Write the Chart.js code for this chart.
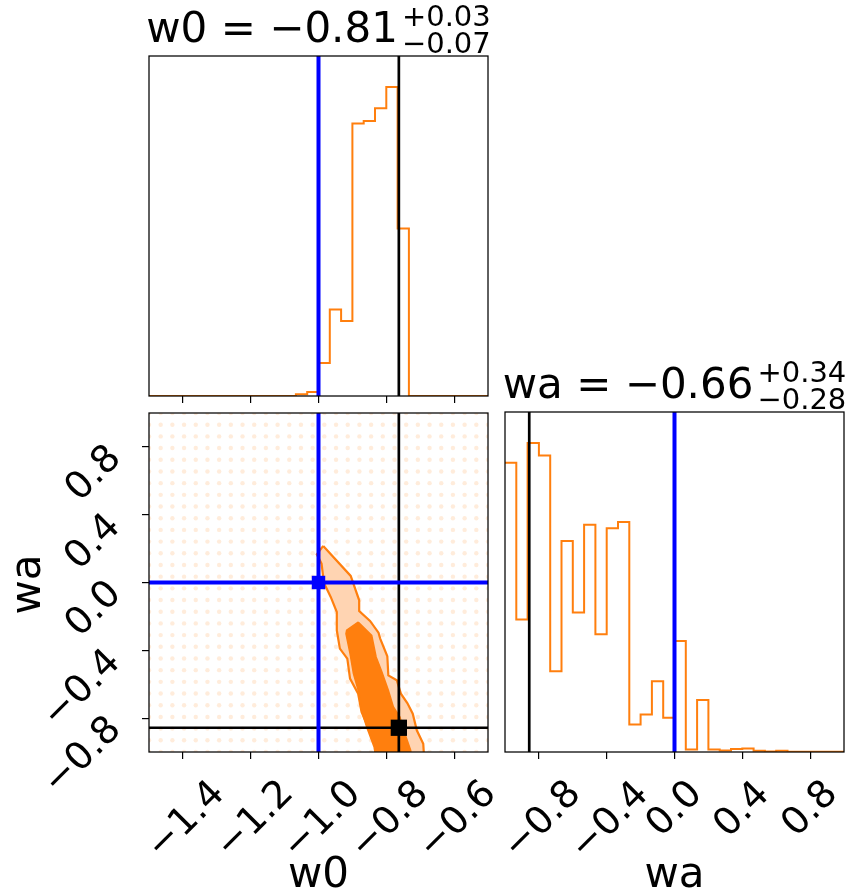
<!DOCTYPE html>
<html>
<head>
<meta charset="utf-8">
<script src="https://cdn.jsdelivr.net/npm/chart.js@4.4.1/dist/chart.umd.min.js"></script>
<style>
    html, body { margin: 0; padding: 0; background: #fff; }
    #wrap { position: relative; width: 850px; height: 892px; }
    #wrap canvas { position: absolute; left: 0; top: 0; }
</style>
</head>
<body>
<div id="wrap">
    <canvas id="c_w0" width="850" height="892"></canvas>
    <canvas id="c_2d" width="850" height="892"></canvas>
    <canvas id="c_wa" width="850" height="892"></canvas>
</div>
<script>
'use strict';

// axis ranges and binning of the marginal histograms
const w0_range = [-1.5, -0.5];
const wa_range = [-1.0, 1.0];

// relative counts per bin (30 bins each)
const w0_hist = [0, 0, 0, 0, 0, 0, 0, 0, 0, 0, 0, 0, 0,
    0.006, 0.013, 0.107, 0.280, 0.243, 0.882, 0.890, 0.931, 1.0, 0.542,
    0, 0, 0, 0, 0, 0, 0];
const wa_hist = [0.936, 0.429, 1.0, 0.959, 0.261, 0.683, 0.451, 0.735, 0.381, 0.724,
    0.744, 0.089, 0.121, 0.229, 0.111, 0.359, 0.008, 0.168, 0.008, 0.005,
    0.010, 0.011, 0.004, 0.002, 0.004, 0.001, 0.001, 0.001, 0.001, 0.001];

const w0_ticks = [-1.4, -1.2, -1.0, -0.8, -0.6];
const wa_ticks = [-0.8, -0.4, 0.0, 0.4, 0.8];

// reference (blue) and best fit (black) values: [w0, wa]
const ref_point = [-1.0, 0.0];
const best_point = [-0.763, -0.857];

// 2d credible contours [w0, wa]
const contour_outer = [[-0.986, 0.216], [-0.905, 0.039], [-0.880, -0.105], [-0.880, -0.168],
    [-0.848, -0.227], [-0.823, -0.296], [-0.818, -0.331], [-0.797, -0.435], [-0.794, -0.548],
    [-0.769, -0.577], [-0.757, -0.656], [-0.738, -0.711], [-0.722, -0.774], [-0.710, -0.872],
    [-0.691, -0.951], [-0.688, -1.05], [-0.830, -1.05], [-0.833, -0.951], [-0.850, -0.872],
    [-0.873, -0.764], [-0.883, -0.656], [-0.907, -0.567], [-0.915, -0.449], [-0.937, -0.390],
    [-0.946, -0.282], [-0.946, -0.174], [-0.964, -0.085], [-0.984, -0.003], [-0.991, 0.111],
    [-1.005, 0.166]];
const contour_inner = [[-0.883, -0.233], [-0.843, -0.312], [-0.830, -0.439], [-0.814, -0.522],
    [-0.794, -0.636], [-0.779, -0.734], [-0.760, -0.793], [-0.745, -0.892], [-0.728, -0.990],
    [-0.726, -1.05], [-0.830, -1.05], [-0.836, -0.970], [-0.858, -0.852], [-0.873, -0.754],
    [-0.880, -0.656], [-0.897, -0.538], [-0.907, -0.420], [-0.919, -0.302], [-0.917, -0.282]];

const w0_title = ['w0 = \u22120.81', '+0.03', '\u22120.07'];
const wa_title = ['wa = \u22120.66', '+0.34', '\u22120.28'];

const ORANGE = '#ff7f0e';
const LIGHT = '#ffd4b2';
const BLUE = '#0000ff';
const FONT = '"DejaVu Sans", sans-serif';
const K = Math.SQRT1_2;

function stepPoints(range, counts) {
    const w = (range[1] - range[0]) / counts.length;
    const pts = counts.map((c, i) => ({x: range[0] + i * w, y: c}));
    pts.push({x: range[1], y: counts[counts.length - 1]});
    return pts;
}

function polyPoints(poly) {
    const pts = poly.map(p => ({x: p[0], y: p[1]}));
    pts.push({x: poly[0][0], y: poly[0][1]});
    return pts;
}

function lineSet(pts, color, width, order) {
    return {data: pts, borderColor: color, borderWidth: width, pointRadius: 0, fill: false, tension: 0, order: order};
}

function xAxis(range, ticks) {
    return {
        type: 'linear', min: range[0], max: range[1],
        ticks: {display: false},
        afterBuildTicks: s => { s.ticks = ticks.map(v => ({value: v})); },
        afterFit: s => { s.height = 7; },
        grid: {drawOnChartArea: false, drawTicks: true, tickLength: 7, color: '#000', lineWidth: 1.2},
        border: {display: false}
    };
}

function yAxis(range, ticks) {
    if (!ticks) {
        return {type: 'linear', min: range[0], max: range[1], display: false};
    }
    return {
        type: 'linear', min: range[0], max: range[1],
        ticks: {display: false},
        afterBuildTicks: s => { s.ticks = ticks.map(v => ({value: v})); },
        afterFit: s => { s.width = 7; },
        grid: {drawOnChartArea: false, drawTicks: true, tickLength: 7, color: '#000', lineWidth: 1.2},
        border: {display: false}
    };
}

// fills a closed polygon dataset under its outline
const polyFill = {
    id: 'polyFill',
    beforeDatasetDraw(chart, args) {
        const ds = chart.data.datasets[args.index];
        if (!ds.polyColor) return;
        const ctx = chart.ctx, a = chart.chartArea;
        ctx.save();
        ctx.beginPath();
        ctx.rect(a.left, a.top, a.right - a.left, a.bottom - a.top);
        ctx.clip();
        ctx.beginPath();
        args.meta.data.forEach((p, i) => i ? ctx.lineTo(p.x, p.y) : ctx.moveTo(p.x, p.y));
        ctx.closePath();
        ctx.fillStyle = ds.polyColor;
        ctx.fill();
        ctx.restore();
    }
};

// faint dot texture behind the 2d panel
const dotGrid = {
    id: 'dotGrid',
    beforeDatasetsDraw(chart) {
        const ctx = chart.ctx, a = chart.chartArea;
        const xs = chart.scales.x, ys = chart.scales.y;
        ctx.save();
        ctx.beginPath();
        ctx.rect(a.left, a.top, a.right - a.left, a.bottom - a.top);
        ctx.clip();
        ctx.fillStyle = 'rgba(255,127,14,0.15)';
        for (let i = 0; i < 30; i++) {
            for (let j = 0; j < 30; j++) {
                const px = xs.getPixelForValue(xs.min + i * (xs.max - xs.min) / 29);
                const py = ys.getPixelForValue(ys.min + j * (ys.max - ys.min) / 29);
                ctx.beginPath();
                ctx.arc(px, py, 2.2, 0, Math.PI * 2);
                ctx.fill();
            }
        }
        ctx.restore();
    }
};

function fmt(v) {
    return (v < 0 ? '\u2212' : '') + Math.abs(v).toFixed(1);
}

// rotated (45 deg) tick label, placed by its ink box
function rotLabel(ctx, text, place) {
    ctx.font = '38px ' + FONT;
    ctx.textAlign = 'left';
    ctx.textBaseline = 'alphabetic';
    const m = ctx.measureText(text);
    const L = m.actualBoundingBoxLeft, R = m.actualBoundingBoxRight;
    const A = m.actualBoundingBoxAscent, D = m.actualBoundingBoxDescent;
    const minX = K * (-L - A), maxX = K * (R + D), minY = K * (-R - A);
    let ax, ay;
    if (place.cx !== undefined) {
        ax = place.cx - (minX + maxX) / 2;
    } else {
        ax = place.right - maxX;
    }
    ay = place.top - minY;
    ctx.save();
    ctx.translate(ax, ay);
    ctx.rotate(-Math.PI / 4);
    ctx.fillText(text, 0, 0);
    ctx.restore();
}

function textPlugin(cfg) {
    return {
        id: 'panelText',
        afterDraw(chart) {
            const ctx = chart.ctx, a = chart.chartArea;
            ctx.save();
            ctx.fillStyle = '#000';
            // frame
            ctx.strokeStyle = '#000';
            ctx.lineWidth = 1.25;
            ctx.strokeRect(a.left, a.top, a.right - a.left, a.bottom - a.top);

            if (cfg.title) {
                const [main, sup, sub] = cfg.title;
                ctx.textAlign = 'left';
                ctx.textBaseline = 'alphabetic';
                ctx.font = '42px ' + FONT;
                const wMain = ctx.measureText(main).width;
                ctx.font = '29px ' + FONT;
                const wScr = Math.max(ctx.measureText(sup).width, ctx.measureText(sub).width);
                const gap = 4;
                const x0 = (a.left + a.right) / 2 - (wMain + gap + wScr) / 2;
                const base = a.top - 14.3;
                ctx.font = '42px ' + FONT;
                ctx.fillText(main, x0, base);
                ctx.font = '29px ' + FONT;
                ctx.fillText(sup, x0 + wMain + gap, base - 16);
                ctx.fillText(sub, x0 + wMain + gap, base + 11);
            }
            if (cfg.xTicks) {
                const xs = chart.scales.x;
                cfg.xTicks.forEach(v => {
                    const t = fmt(v);
                    const shift = v < 0 ? 2 : -2;
                    rotLabel(ctx, t, {cx: xs.getPixelForValue(v) + shift, top: 777});
                });
            }
            if (cfg.yTicks) {
                const ys = chart.scales.y;
                cfg.yTicks.forEach(v => {
                    rotLabel(ctx, fmt(v), {right: 121.7, top: ys.getPixelForValue(v) - 5.5});
                });
            }
            if (cfg.xLabel) {
                ctx.font = '42px ' + FONT;
                ctx.textAlign = 'center';
                ctx.textBaseline = 'alphabetic';
                ctx.fillText(cfg.xLabel, (a.left + a.right) / 2, 887);
            }
            if (cfg.yLabel) {
                ctx.font = '42px ' + FONT;
                ctx.textAlign = 'center';
                ctx.textBaseline = 'alphabetic';
                ctx.save();
                ctx.translate(40, (a.top + a.bottom) / 2 + 2);
                ctx.rotate(-Math.PI / 2);
                ctx.fillText(cfg.yLabel, 0, 0);
                ctx.restore();
            }
            ctx.restore();
        }
    };
}

function baseOptions(padding, xs, ys) {
    return {
        responsive: false,
        animation: false,
        devicePixelRatio: 1,
        layout: {padding: padding},
        plugins: {legend: {display: false}, tooltip: {enabled: false}},
        scales: {x: xs, y: ys}
    };
}

// w0 marginal
const w0Top = 1.1 * Math.max(...w0_hist);
new Chart(document.getElementById('c_w0'), {
    type: 'line',
    data: {
        datasets: [
            lineSet([{x: best_point[0], y: 0}, {x: best_point[0], y: w0Top}], '#000', 2.7, 1),
            lineSet([{x: ref_point[0], y: 0}, {x: ref_point[0], y: w0Top}], BLUE, 4, 0),
            Object.assign(lineSet(stepPoints(w0_range, w0_hist), ORANGE, 2, 2), {stepped: 'before'})
        ]
    },
    options: baseOptions({left: 149, right: 362, top: 56, bottom: 489},
        xAxis(w0_range, w0_ticks), yAxis([0, w0Top], null)),
    plugins: [textPlugin({title: w0_title})]
});

// 2d panel
new Chart(document.getElementById('c_2d'), {
    type: 'line',
    data: {
        datasets: [
            Object.assign(lineSet(polyPoints(contour_outer), ORANGE, 2.2, 6), {polyColor: LIGHT}),
            Object.assign(lineSet(polyPoints(contour_inner), ORANGE, 1.5, 5), {polyColor: ORANGE}),
            lineSet([{x: best_point[0], y: wa_range[0]}, {x: best_point[0], y: wa_range[1]}], '#000', 2.7, 4),
            lineSet([{x: w0_range[0], y: best_point[1]}, {x: w0_range[1], y: best_point[1]}], '#000', 2.7, 4),
            lineSet([{x: ref_point[0], y: wa_range[0]}, {x: ref_point[0], y: wa_range[1]}], BLUE, 4, 3),
            lineSet([{x: w0_range[0], y: ref_point[1]}, {x: w0_range[1], y: ref_point[1]}], BLUE, 4, 3),
            {data: [{x: best_point[0], y: best_point[1]}], showLine: false, pointStyle: 'rect',
                pointRadius: 11.5, backgroundColor: '#000', borderWidth: 0, order: 1},
            {data: [{x: ref_point[0], y: ref_point[1]}], showLine: false, pointStyle: 'rect',
                pointRadius: 9.5, backgroundColor: BLUE, borderWidth: 0, order: 0}
        ]
    },
    options: baseOptions({left: 142, right: 362, top: 413, bottom: 133},
        xAxis(w0_range, w0_ticks), yAxis(wa_range, wa_ticks)),
    plugins: [polyFill, dotGrid, textPlugin({xTicks: w0_ticks, yTicks: wa_ticks, xLabel: 'w0', yLabel: 'wa'})]
});

// wa marginal
const waTop = 1.1 * Math.max(...wa_hist);
new Chart(document.getElementById('c_wa'), {
    type: 'line',
    data: {
        datasets: [
            lineSet([{x: best_point[1], y: 0}, {x: best_point[1], y: waTop}], '#000', 2.7, 1),
            lineSet([{x: ref_point[1], y: 0}, {x: ref_point[1], y: waTop}], BLUE, 4, 0),
            Object.assign(lineSet(stepPoints(wa_range, wa_hist), ORANGE, 2, 2), {stepped: 'before'})
        ]
    },
    options: baseOptions({left: 505, right: 6, top: 412, bottom: 133},
        xAxis(wa_range, wa_ticks), yAxis([0, waTop], null)),
    plugins: [textPlugin({title: wa_title, xTicks: wa_ticks, xLabel: 'wa'})]
});
</script>
</body>
</html>
